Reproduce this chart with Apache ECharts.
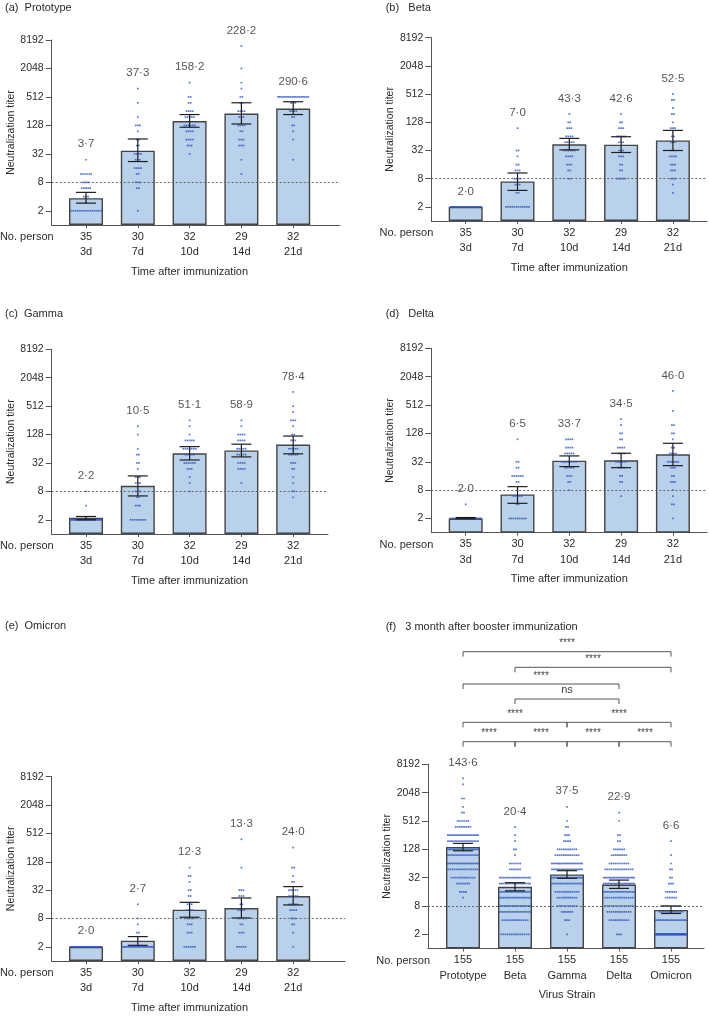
<!DOCTYPE html>
<html><head><meta charset="utf-8">
<script src="https://cdn.jsdelivr.net/npm/echarts@6/dist/echarts.min.js"></script>
<style>html,body{margin:0;padding:0;background:#fff}#c{width:709px;height:1018px}</style>
</head><body><div id="c"></div><script>
// ---------------- DATA ----------------
const days = ['3d', '7d', '10d', '14d', '21d'];
const strains = ['Prototype', 'Beta', 'Gamma', 'Delta', 'Omicron'];
const personsTime = [35, 30, 32, 29, 32];
const personsStrain = [155, 155, 155, 155, 155];
const yTicks = [2, 8, 32, 128, 512, 2048, 8192];
const yTop = 8192, yBottom = 1;
const cutoff = 8;

// (a) Prototype
const gmtA = [3.7, 37.3, 158.2, 228.2, 290.6];
const ciA = [[2.9, 4.9], [22, 66], [117, 217], [137, 385], [217, 405]];
const dotsA = [
  [[2,15],[3,1],[4,3],[6,5],[8,4],[12,6],[24,1]],
  [[2,1],[6,2],[8,3],[12,2],[16,4],[24,3],[32,4],[48,2],[64,2],[96,1],[128,3],[192,1],[384,1],[768,1]],
  [[32,1],[48,3],[64,4],[96,4],[128,6],[192,5],[256,4],[384,2],[512,2],[1024,1]],
  [[12,1],[24,1],[48,3],[64,3],[96,2],[128,4],[192,3],[256,4],[384,2],[512,2],[768,1],[1024,1],[2048,1],[6144,1]],
  [[24,1],[64,1],[96,1],[128,2],[192,2],[256,4],[384,3],[512,18]]
];
// (b) Beta
const gmtB = [2.0, 7.0, 43.3, 42.6, 52.5];
const ciB = [[2, 2], [4.5, 10.6], [33, 58], [29, 63], [32, 86]];
const dotsB = [
  [[2,35]],
  [[2,12],[4,2],[6,3],[8,4],[12,3],[16,2],[24,1],[32,2],[96,1]],
  [[8,2],[12,2],[16,3],[24,4],[32,6],[48,5],[64,4],[96,3],[128,2],[192,1]],
  [[8,5],[12,2],[16,2],[24,3],[32,3],[48,3],[64,5],[96,3],[128,2],[192,1]],
  [[4,1],[6,1],[8,3],[12,3],[16,3],[24,4],[32,2],[48,3],[64,2],[96,3],[128,1],[192,2],[256,1],[384,2],[512,1]]
];
// (c) Gamma
const gmtC = [2.2, 10.5, 51.1, 58.9, 78.4];
const ciC = [[2.0, 2.35], [6.4, 17], [37, 71], [43, 80], [50, 119]];
const dotsC = [
  [[2,33],[4,1],[8,1]],
  [[2,8],[4,3],[6,2],[8,3],[12,3],[16,3],[24,1],[32,2],[48,2],[64,1],[128,1],[192,1]],
  [[8,1],[12,1],[16,1],[24,3],[32,6],[48,5],[64,7],[96,5],[128,1],[192,1],[256,1]],
  [[12,1],[24,4],[32,4],[48,5],[64,5],[96,4],[128,4],[192,1],[256,1]],
  [[6,1],[8,2],[12,1],[16,1],[24,2],[32,3],[48,5],[64,5],[96,3],[128,2],[192,1],[256,3],[384,1],[512,1],[1024,1]]
];
// (d) Delta
const gmtD = [2.0, 6.5, 33.7, 34.5, 46.0];
const ciD = [[2.0, 2.1], [4.2, 9.5], [25.3, 42.6], [24, 48.5], [26.5, 79]];
const dotsD = [
  [[2,34],[4,1]],
  [[2,9],[4,2],[6,5],[8,1],[12,2],[16,6],[24,2],[32,2],[96,1]],
  [[8,1],[12,2],[16,3],[24,5],[32,8],[48,5],[64,4],[96,4]],
  [[6,1],[12,2],[16,2],[24,4],[32,6],[48,4],[64,4],[96,2],[128,2],[192,1],[256,1]],
  [[2,1],[4,2],[6,1],[8,1],[12,3],[16,2],[24,3],[32,6],[48,4],[64,2],[96,1],[128,2],[192,2],[384,1],[1024,1]]
];
// (e) Omicron
const gmtE = [2.0, 2.7, 12.3, 13.3, 24.0];
const ciE = [[2, 2], [2.15, 3.3], [8.5, 17.6], [8.2, 21.8], [15.5, 38]];
const dotsE = [
  [[2,35]],
  [[2,25],[4,2],[6,1],[8,1],[16,1]],
  [[2,6],[4,3],[6,3],[8,5],[12,4],[16,3],[24,2],[32,2],[48,1],[64,2],[96,1]],
  [[2,5],[4,3],[6,2],[8,5],[12,4],[16,2],[24,3],[32,3],[96,1],[384,1]],
  [[2,1],[4,1],[6,2],[8,3],[12,4],[16,5],[24,5],[32,5],[48,2],[64,1],[96,2],[256,1]]
];
// (f) 3 month after booster
const gmtF = [143.6, 20.4, 37.5, 22.9, 6.6];
const ciF = [[119, 171], [16.8, 25], [31, 45], [18.9, 28.4], [5.55, 7.95]];
const dotsF = [
  [[12,1],[16,4],[24,7],[32,12],[48,15],[64,20],[96,16],[128,23],[192,16],[256,20],[384,8],[512,6],[768,2],[1024,1],[1536,2],[3072,1],[4096,1]],
  [[2,14],[4,13],[6,16],[8,20],[12,18],[16,20],[24,18],[32,18],[48,6],[64,6],[96,1],[128,2],[192,1],[256,1],[384,1]],
  [[2,1],[4,3],[6,6],[8,10],[12,10],[16,12],[24,18],[32,22],[48,20],[64,20],[96,12],[128,10],[192,4],[256,3],[384,2],[512,1],[1024,1]],
  [[2,3],[4,10],[6,12],[8,14],[12,14],[16,18],[24,20],[32,20],[48,14],[64,10],[96,8],[128,6],[192,2],[256,2],[512,1],[768,1]],
  [[2,91],[4,20],[6,12],[8,10],[12,6],[16,6],[24,3],[32,2],[48,2],[64,1],[96,1],[192,1]]
];
// significance brackets for (f)
const bracketFrom = [0, 1, 2, 3, 0, 2, 1, 0, 1, 0];
const bracketTo   = [1, 2, 3, 4, 2, 4, 3, 3, 4, 4];
const bracketSig  = ['****','****','****','****','****','****','ns','****','****','****'];
const bracketRow  = [0, 0, 0, 0, 1, 1, 2, 3, 4, 5];

// ---------------- LAYOUT ----------------
const FONT = 'Liberation Sans, Arial, Helvetica, sans-serif';
const TXT = '#2b2b2b';
const AX = '#555';
const panels = [
  {title:'(a)  Prototype', tx:5, ty:8, left:51.7, right:340, top:40, bottom:225, c0:86, sp:51.8, cats:days, n:personsTime, xname:'Time after immunization', gmt:gmtA, ci:ciA, dots:dotsA},
  {title:'(b)   Beta', tx:385.7, ty:8, left:431.3, right:707, top:37.7, bottom:221, c0:465.7, sp:51.8, cats:days, n:personsTime, xname:'Time after immunization', gmt:gmtB, ci:ciB, dots:dotsB},
  {title:'(c)  Gamma', tx:5, ty:314, left:51.7, right:328, top:349.3, bottom:534, c0:86, sp:51.8, cats:days, n:personsTime, xname:'Time after immunization', gmt:gmtC, ci:ciC, dots:dotsC},
  {title:'(d)   Delta', tx:385.7, ty:314, left:431.3, right:707, top:348.3, bottom:532.7, c0:465.7, sp:51.8, cats:days, n:personsTime, xname:'Time after immunization', gmt:gmtD, ci:ciD, dots:dotsD},
  {title:'(e)  Omicron', tx:5, ty:626, left:51.7, right:345, top:776.7, bottom:961, c0:86, sp:51.8, cats:days, n:personsTime, xname:'Time after immunization', gmt:gmtE, ci:ciE, dots:dotsE},
  {title:'(f)   3 month after booster immunization', tx:385.7, ty:627, left:428, right:704, top:764.3, bottom:948.5, c0:463, sp:52, cats:strains, n:personsStrain, xname:'Virus Strain', gmt:gmtF, ci:ciF, dots:dotsF}
];
const bracketRowOffset = [22.6, 42, 65.3, 80.3, 97, 112.6]; // px above grid top
const BAR_W = 34, DOT_MAXW = 32, DOT_SP = 2.1;

const log2 = Math.log2;
const fmt = v => v.toFixed(1).replace('.', '\u00b7');
const tickLogs = yTicks.map(log2);

const grids = [], xAxes = [], yAxes = [], series = [], graphics = [];

panels.forEach((p, k) => {
  grids.push({left:p.left, top:p.top, width:p.right - p.left, height:p.bottom - p.top, containLabel:false, outerBoundsMode:'none'});
  xAxes.push({
    gridIndex:k, type:'value', min:(p.left - p.c0) / p.sp, max:(p.right - p.c0) / p.sp,
    axisLine:{show:true, onZero:false, lineStyle:{color:AX, width:1}},
    axisTick:{show:true, length:3, customValues:[0,1,2,3,4], lineStyle:{color:AX}},
    splitLine:{show:false},
    axisLabel:{customValues:[0,1,2,3,4], formatter:v => p.n[Math.round(v)] + '\n' + p.cats[Math.round(v)],
      color:TXT, fontSize:11, lineHeight:15.5, margin:4, fontFamily:FONT}
  });
  yAxes.push({
    gridIndex:k, type:'value', min:log2(yBottom), max:log2(yTop),
    axisLine:{show:true, onZero:false, lineStyle:{color:AX, width:1}},
    axisTick:{show:true, length:6, customValues:tickLogs, lineStyle:{color:AX}},
    splitLine:{show:false},
    axisLabel:{customValues:tickLogs, formatter:v => String(Math.round(Math.pow(2, v))), color:TXT, fontSize:10.5, margin:8, fontFamily:FONT},
    name:'Neutralization titer', nameLocation:'middle', nameRotate:90, nameGap:34,
    nameTextStyle:{color:TXT, fontSize:10.5, fontFamily:FONT}
  });
  // bars
  series.push({
    type:'bar', xAxisIndex:k, yAxisIndex:k, barWidth:BAR_W, z:2,
    data:p.gmt.map((g, i) => [i, log2(g)]),
    itemStyle:{color:'#b9d1ea', borderColor:'#444', borderWidth:1.4},
    markLine:{silent:true, symbol:'none', label:{show:false}, z:6,
      lineStyle:{type:[2, 2], color:'#666', width:1}, data:[{yAxis:log2(cutoff)}]}
  });
  // dots
  const dd = [];
  p.dots.forEach((lv, i) => {
    lv.forEach(([t, c]) => {
      const s = Math.min(DOT_SP, DOT_MAXW / c);
      for (let j = 0; j < c; j++) {
        dd.push([i + (j - (c - 1) / 2) * s / p.sp, log2(t)]);
      }
    });
  });
  series.push({type:'scatter', xAxisIndex:k, yAxisIndex:k, symbol:'rect', symbolSize:1.7, z:3,
    itemStyle:{color:'#2f57c2'}, data:dd});
  // error bars
  series.push({
    type:'custom', xAxisIndex:k, yAxisIndex:k, z:4,
    data:p.ci.map((c, i) => [i, log2(c[0]), log2(c[1])]),
    encode:{x:0, y:[1, 2]},
    renderItem:(params, api) => {
      const x = api.value(0), lo = api.value(1), hi = api.value(2);
      if (hi - lo < 1e-6) return null;
      const a = api.coord([x, lo]), b = api.coord([x, hi]);
      const hw = 10, st = {stroke:'#1e1e1e', lineWidth:1.2};
      return {type:'group', children:[
        {type:'line', shape:{x1:a[0], y1:a[1], x2:b[0], y2:b[1]}, style:st},
        {type:'line', shape:{x1:a[0] - hw, y1:a[1], x2:a[0] + hw, y2:a[1]}, style:st},
        {type:'line', shape:{x1:b[0] - hw, y1:b[1], x2:b[0] + hw, y2:b[1]}, style:st}
      ]};
    }
  });
  // value labels above highest dot
  series.push({
    type:'scatter', xAxisIndex:k, yAxisIndex:k, symbolSize:1, z:5, silent:true,
    itemStyle:{color:'rgba(0,0,0,0)'},
    data:p.dots.map((lv, i) => [i, log2(Math.max(...lv.map(d => d[0])))]),
    label:{show:true, position:'top', distance:9, color:TXT, fontSize:11.5, fontFamily:FONT,
      formatter:prm => fmt(p.gmt[prm.dataIndex])}
  });
  // texts
  graphics.push({type:'text', x:p.tx, y:p.ty, style:{text:p.title, fill:TXT, font:'11px ' + FONT, textVerticalAlign:'middle'}});
  graphics.push({type:'text', x:p.left + 2, y:p.bottom + 12, style:{text:'No. person', fill:TXT, font:'11px ' + FONT, textAlign:'right', textVerticalAlign:'middle'}});
  graphics.push({type:'text', x:p.c0 + 2 * p.sp, y:p.bottom + 46.5, style:{text:p.xname, fill:TXT, font:'11px ' + FONT, textAlign:'center', textVerticalAlign:'middle'}});
});

// significance brackets on panel (f)
const pf = panels[5];
series.push({
  type:'custom', xAxisIndex:5, yAxisIndex:5, clip:false, z:6, silent:true,
  data:bracketFrom.map((f, i) => [f, bracketTo[i], bracketRow[i]]),
  encode:{x:[0, 1], y:2},
  renderItem:(params, api) => {
    const i = params.dataIndex;
    const x1 = api.coord([api.value(0), 0])[0];
    const x2 = api.coord([api.value(1), 0])[0];
    const y = pf.top - bracketRowOffset[api.value(2)];
    const st = {stroke:'#555', lineWidth:1, fill:null};
    const sig = bracketSig[i];
    return {type:'group', children:[
      {type:'polyline', shape:{points:[[x1, y + 5], [x1, y], [x2, y], [x2, y + 5]]}, style:st},
      {type:'text', x:(x1 + x2) / 2, y:sig === 'ns' ? y - 9 : y - 8,
        style:{text:sig, fill:'#444', font:(sig === 'ns' ? '11px ' : '10px ') + FONT, textAlign:'center', textVerticalAlign:'middle'}}
    ]};
  }
});

const chart = echarts.init(document.getElementById('c'), null, {renderer:'canvas'});
chart.setOption({
  animation:false,
  textStyle:{fontFamily:FONT},
  grid:grids, xAxis:xAxes, yAxis:yAxes, series:series, graphic:graphics
});
</script></body></html>
